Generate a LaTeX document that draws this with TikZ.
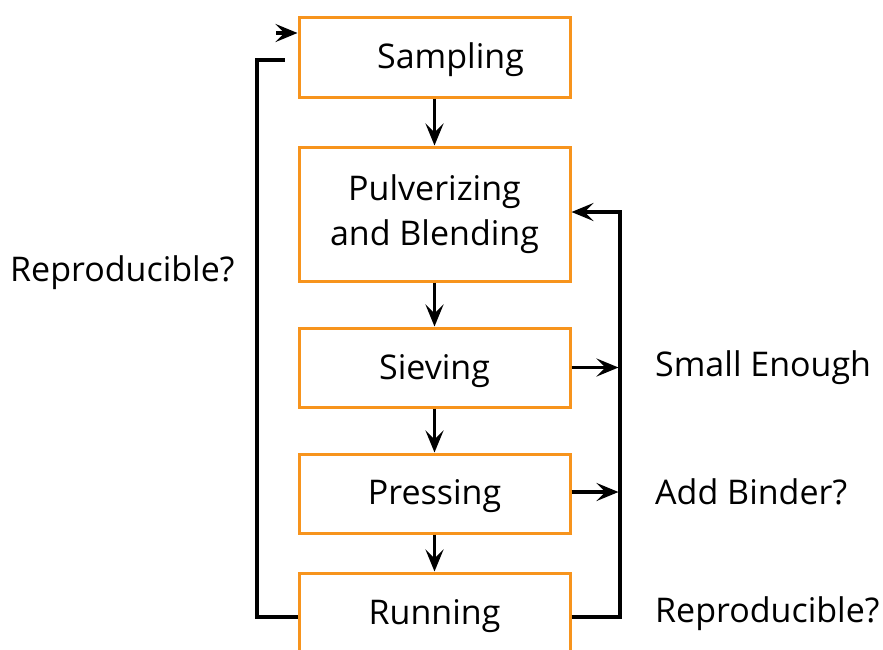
\documentclass[tikz,border=0pt]{standalone}
\usepackage{fontspec}
\setmainfont{Open Sans}
\usetikzlibrary{arrows.meta}
\definecolor{boxorange}{HTML}{F7941D}
\newcommand{\lowertext}[2]{\raisebox{-#1}[\height][\depth]{#2}}
\tikzset{
  box/.style={draw=boxorange, line width=3pt, minimum width=271pt, inner sep=0pt, font=\fontsize{34}{45}\selectfont, align=center},
  conn/.style={draw=black, line width=3.2pt},
  arrowtip/.style={arrows={-Stealth[length=22pt, width=18pt, inset=9pt]}},
  lbl/.style={anchor=west, inner sep=0pt, font=\fontsize{34}{40}\selectfont},
}
\begin{document}
\begin{tikzpicture}[x=1pt,y=-1pt]
\clip (0,0) rectangle (883,649);
\fill[white] (0,0) rectangle (883,649);
\node[box, minimum height=80pt] (samp) at (434.5,57) {\hspace*{32pt}\lowertext{3pt}{Sampling}};
\node[box, minimum height=134pt] (pulv) at (434.5,214) {Pulverizing\\and Blending};
\node[box, minimum height=79pt] (siev) at (434.5,367.5) {\lowertext{4pt}{Sieving}};
\node[box, minimum height=79pt] (pres) at (434.5,493.5) {\lowertext{3pt}{Pressing}};
\node[box, minimum height=88pt] (run) at (434.5,617) {\lowertext{-1pt}{Running}};
\draw[conn,arrowtip] (samp.south) -- (pulv.north);
\draw[conn,arrowtip] (pulv.south) -- (siev.north);
\draw[conn,arrowtip] (siev.south) -- (pres.north);
\draw[conn,arrowtip] (pres.south) -- (run.north);
% right loop
\coordinate (rtop) at (620,212);
\draw[conn,arrowtip] (run.east) -| (rtop) -- (pulv.east |- rtop);
\draw[conn,arrowtip,shorten >=1.5pt] (siev.east) -- (siev.east -| rtop);
\coordinate (rmid) at (620,492);
\draw[conn,arrowtip,shorten >=1.5pt] (pres.east |- rmid) -- (rmid);
% left loop
\coordinate (ltop) at (257,60);
\coordinate (lend) at (285,60);
\draw[conn] (run.west) -| (ltop) -- (lend);
\coordinate (atail) at (276,33);
\draw[conn,arrowtip] (atail) -- (samp.west |- atail);
% labels
\node[lbl] (l1) at (655,368) {Small Enough};
\node[lbl] (l2) at (655,492) {Add Binder?};
\node[lbl] (l3) at (655,614) {Reproducible?};
\node[lbl] (l4) at (10,273) {Reproducible?};
\end{tikzpicture}
\end{document}
